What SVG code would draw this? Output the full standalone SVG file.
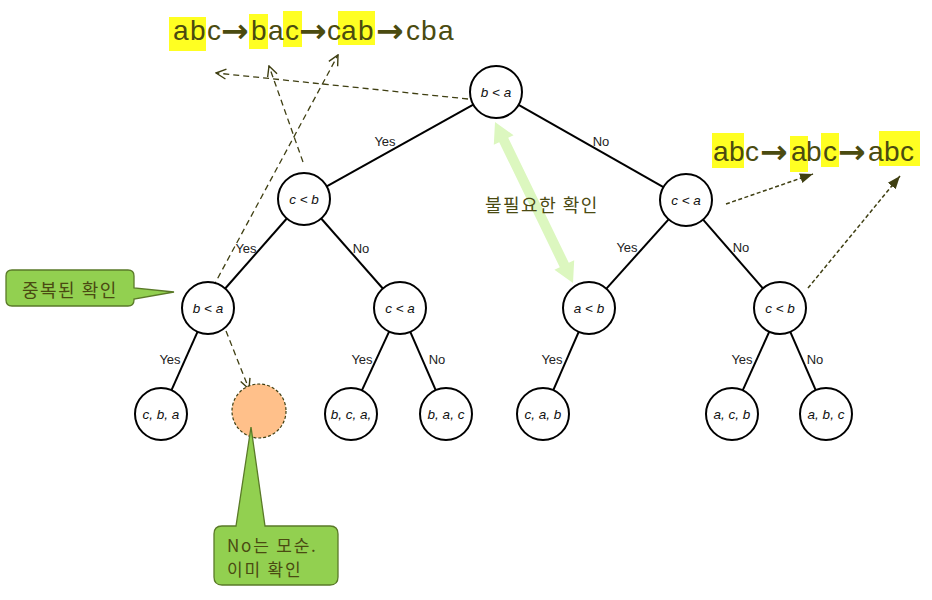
<svg xmlns="http://www.w3.org/2000/svg" width="932" height="600" viewBox="0 0 932 600">
<style>
.node{fill:#fff;stroke:#000;stroke-width:2}
.nt{font-family:"Liberation Sans",Arial,sans-serif;font-style:italic;font-size:13.5px;fill:#111;text-anchor:middle}
.lbl{font-family:"Liberation Sans",Arial,sans-serif;font-size:13px;fill:#222;text-anchor:middle}
.edge{stroke:#000;stroke-width:2;fill:none}
.dash{stroke:#3f3f12;stroke-width:1.3;fill:none;stroke-dasharray:6 4}
.dash2{stroke:#3f3f12;stroke-width:1.5;fill:none;stroke-dasharray:4 2.5}
.big{font-family:"Liberation Sans",Arial,sans-serif;font-size:28px;fill:#4b4b10}
.arr{font-family:"DejaVu Sans",sans-serif;font-weight:bold;font-size:33px;fill:#4b4b10}
.hl{fill:#ffff22}
.kr{font-family:"Noto Sans CJK KR","Liberation Sans",sans-serif;font-size:18px;fill:#4a4a12;letter-spacing:1.5px}
.kr2{font-family:"Noto Sans CJK KR","Liberation Sans",sans-serif;font-size:17px;fill:#4a4a12;letter-spacing:1.8px}
.callout{fill:#92d050;stroke:#5a7a28;stroke-width:1.3}
</style>
<defs>
<marker id="open" markerWidth="12" markerHeight="12" refX="11" refY="6" orient="auto" markerUnits="userSpaceOnUse">
<path d="M1,1 L11,6 L1,11" fill="none" stroke="#3f3f12" stroke-width="1.4"/>
</marker>
<marker id="fill" markerWidth="14" markerHeight="12" refX="13" refY="6" orient="auto" markerUnits="userSpaceOnUse">
<path d="M0,1 L13,6 L0,11 Z" fill="#3f3f12"/>
</marker>
</defs>
<rect width="932" height="600" fill="#fff"/>

<!-- highlighted sequences -->
<g id="seq-top">
<rect class="hl" x="169" y="17" width="37" height="34"/>
<rect class="hl" x="249" y="14" width="19" height="35"/>
<rect class="hl" x="283" y="11" width="19" height="36"/>
<rect class="hl" x="338" y="11" width="37" height="34"/>
<text class="big" y="40"><tspan x="173">a</tspan><tspan x="190">b</tspan><tspan x="207">c</tspan><tspan x="251">b</tspan><tspan x="268">a</tspan><tspan x="285">c</tspan><tspan x="327">c</tspan><tspan x="341">a</tspan><tspan x="358">b</tspan><tspan x="406">c</tspan><tspan x="421">b</tspan><tspan x="438">a</tspan></text>
<text class="arr" y="42"><tspan x="221">→</tspan><tspan x="299">→</tspan><tspan x="376">→</tspan></text>
</g>
<g id="seq-right">
<rect class="hl" x="712" y="133" width="32" height="35"/>
<rect class="hl" x="790" y="136" width="18" height="36"/>
<rect class="hl" x="821" y="133" width="18" height="34"/>
<rect class="hl" x="879" y="131" width="41" height="35"/>
<text class="big" y="161"><tspan x="713">a</tspan><tspan x="729">b</tspan><tspan x="745">c</tspan><tspan x="791">a</tspan><tspan x="806">b</tspan><tspan x="823">c</tspan><tspan x="868">a</tspan><tspan x="884">b</tspan><tspan x="900">c</tspan></text>
<text class="arr" y="163"><tspan x="760">→</tspan><tspan x="838">→</tspan></text>
</g>

<!-- connectors -->
<g id="connectors">
<line class="edge" x1="473.3" y1="104.7" x2="326.7" y2="186.3"/>
<line class="edge" x1="518.6" y1="104.8" x2="663.4" y2="187.2"/>
<line class="edge" x1="286.8" y1="218.5" x2="225.2" y2="288.5"/>
<line class="edge" x1="321.2" y1="218.5" x2="382.8" y2="288.5"/>
<line class="edge" x1="668.6" y1="219.3" x2="606.4" y2="288.7"/>
<line class="edge" x1="703.1" y1="219.6" x2="762.9" y2="288.4"/>
<line class="edge" x1="197.5" y1="331.8" x2="171.5" y2="390.2"/>
<line class="edge" x1="389.1" y1="331.6" x2="361.9" y2="390.4"/>
<line class="edge" x1="410.3" y1="331.8" x2="435.7" y2="390.2"/>
<line class="edge" x1="578.7" y1="331.8" x2="553.3" y2="390.2"/>
<line class="edge" x1="769.3" y1="331.7" x2="742.7" y2="390.3"/>
<line class="edge" x1="790.3" y1="331.8" x2="815.7" y2="390.2"/>
<text class="lbl" x="385" y="146">Yes</text>
<text class="lbl" x="601" y="146">No</text>
<text class="lbl" x="246" y="253">Yes</text>
<text class="lbl" x="361" y="253">No</text>
<text class="lbl" x="627" y="252">Yes</text>
<text class="lbl" x="741" y="252">No</text>
<text class="lbl" x="170" y="364">Yes</text>
<text class="lbl" x="362" y="364">Yes</text>
<text class="lbl" x="437" y="364">No</text>
<text class="lbl" x="552" y="364">Yes</text>
<text class="lbl" x="742" y="364">Yes</text>
<text class="lbl" x="815" y="364">No</text>
<!-- dashed annotations -->
<line class="dash" x1="468" y1="99" x2="216" y2="73" marker-end="url(#open)"/>
<line class="dash" x1="303" y1="162" x2="269" y2="66" marker-end="url(#open)"/>
<line class="dash" x1="213" y1="287" x2="338" y2="55" marker-end="url(#open)"/>
<line class="dash" x1="226" y1="331" x2="249" y2="389" marker-end="url(#open)"/>
<line class="dash2" x1="726" y1="204" x2="813" y2="174" marker-end="url(#fill)"/>
<line class="dash2" x1="808" y1="288" x2="900" y2="176" marker-end="url(#fill)"/>
<!-- green double arrow -->
<polygon fill="#dcf7bf" points="495,122 513.6,135.2 508.2,137.8 568.8,262.8 574.2,260.2 573,283 554.4,269.8 559.8,267.2 499.2,142.2 493.8,144.8"/>
</g>

<!-- nodes -->
<g id="n-root"><circle class="node" cx="496" cy="92" r="26"/><text class="nt" x="496" y="97">b &lt; a</text></g>
<g id="n-cb1"><circle class="node" cx="304" cy="199" r="26"/><text class="nt" x="304" y="204">c &lt; b</text></g>
<g id="n-ca1"><circle class="node" cx="686" cy="200" r="26"/><text class="nt" x="686" y="205">c &lt; a</text></g>
<g id="n-ba2"><circle class="node" cx="208" cy="308" r="26"/><text class="nt" x="208" y="313">b &lt; a</text></g>
<g id="n-ca2"><circle class="node" cx="400" cy="308" r="26"/><text class="nt" x="400" y="313">c &lt; a</text></g>
<g id="n-ab2"><circle class="node" cx="589" cy="308" r="26"/><text class="nt" x="589" y="313">a &lt; b</text></g>
<g id="n-cb2"><circle class="node" cx="780" cy="308" r="26"/><text class="nt" x="780" y="313">c &lt; b</text></g>
<g id="n-cba"><circle class="node" cx="161" cy="414" r="26"/><text class="nt" x="161" y="419">c, b, a</text></g>
<g id="n-empty"><circle cx="259" cy="411" r="27" fill="#ffc08a" stroke="#3f3f12" stroke-width="1.2" stroke-dasharray="3 2"/></g>
<g id="n-bca"><circle class="node" cx="351" cy="414" r="26"/><text class="nt" x="351" y="419">b, c, a,</text></g>
<g id="n-bac"><circle class="node" cx="446" cy="414" r="26"/><text class="nt" x="446" y="419">b, a, c</text></g>
<g id="n-cab"><circle class="node" cx="543" cy="414" r="26"/><text class="nt" x="543" y="419">c, a, b</text></g>
<g id="n-acb"><circle class="node" cx="732" cy="414" r="26"/><text class="nt" x="732" y="419">a, c, b</text></g>
<g id="n-abc"><circle class="node" cx="826" cy="414" r="26"/><text class="nt" x="826" y="419">a, b, c</text></g>

<!-- annotations -->
<g id="note-unneeded"><text class="kr" x="485" y="212">불필요한 확인</text></g>
<g id="callout-dup">
<path class="callout" d="M12,270 H128 Q134,270 134,276 V288 L174,292 L134,299 V300 Q134,306 128,306 H12 Q6,306 6,300 V276 Q6,270 12,270 Z"/>
<text class="kr" x="22" y="297">중복된 확인</text>
</g>
<g id="callout-no">
<path class="callout" d="M222,526 H236 L251,427 L265,526 H330 Q338,526 338,534 V577 Q338,585 330,585 H222 Q214,585 214,577 V534 Q214,526 222,526 Z"/>
<text class="kr2" x="227" y="552">No는 모순.</text>
<text class="kr2" x="227" y="576">이미 확인</text>
</g>
</svg>
